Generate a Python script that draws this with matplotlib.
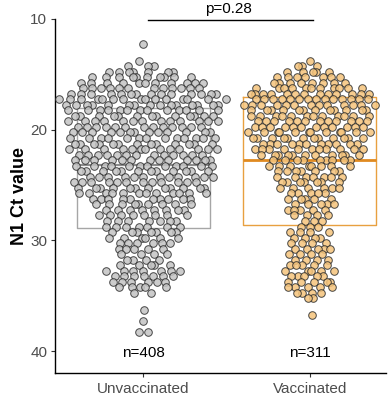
import matplotlib
matplotlib.use('Agg')
import matplotlib.pyplot as plt
import numpy as np

plt.rcParams['font.family'] = ['Liberation Sans', 'DejaVu Sans']

groups = ['Unvaccinated', 'Vaccinated']
n_labels = ['n=408', 'n=311']
p_label = 'p=0.28'

# Ct values (0.5-wide bins, centre value) and how many points sit in each bin
ct_unvax = [12.25, 13.75, 14.25, 14.75, 15.25, 15.75, 16.25, 16.75, 17.25, 17.75,
            18.25, 18.75, 19.25, 19.75, 20.25, 20.75, 21.25, 21.75, 22.25, 22.75,
            23.25, 23.75, 24.25, 24.75, 25.25, 25.75, 26.25, 26.75, 27.25, 27.75,
            28.25, 28.75, 29.25, 29.75, 30.25, 30.75, 31.25, 31.75, 32.25, 32.75,
            33.25, 33.75, 34.25, 34.75, 36.25, 37.25, 38.25]
n_unvax = [1, 1, 3, 7, 10, 11, 12, 14, 15, 15,
           13, 13, 13, 13, 13, 13, 13, 13, 13, 13,
           12, 12, 12, 12, 12, 12, 10, 9, 8, 8,
           7, 7, 7, 6, 6, 5, 4, 4, 5, 7,
           7, 6, 5, 2, 1, 1, 2]

ct_vax = [13.75, 14.25, 14.75, 15.25, 15.75, 16.25, 16.75, 17.25, 17.75, 18.25,
          18.75, 19.25, 19.75, 20.25, 20.75, 21.25, 21.75, 22.25, 22.75, 23.25,
          23.75, 24.25, 24.75, 25.25, 25.75, 26.25, 26.75, 27.25, 27.75, 28.25,
          28.75, 29.25, 29.75, 30.25, 30.75, 31.25, 31.75, 32.25, 32.75, 33.25,
          33.75, 34.25, 34.75, 35.25, 36.75]
n_vax = [1, 3, 5, 7, 8, 11, 13, 14, 13, 12,
         12, 12, 12, 12, 12, 11, 11, 11, 9, 8,
         7, 7, 7, 6, 5, 5, 5, 5, 4, 3,
         3, 4, 4, 4, 5, 4, 4, 5, 5, 5,
         5, 5, 4, 2, 1]

# box (q1, median, q3) as drawn in the figure
box_q1 = [18.0, 17.05]
box_med = [23.2, 22.75]
box_q3 = [28.9, 28.6]

point_fill = ['#c4c4c4', '#f5c47c']
box_col = ['#a6a6a6', '#e8a040']
med_col = ['#8c8c8c', '#e08a20']


def vdc(n, base=2):
    out = []
    for i in range(1, n + 1):
        v, denom, k = 0.0, 1.0, i
        while k:
            k, r = divmod(k, base)
            denom *= base
            v += r / denom
        out.append(v)
    return np.array(out)


def quasirandom(y, scale, bw=0.42):
    y = np.asarray(y, float)
    # local density in points per 0.5 Ct
    d = np.exp(-0.5 * ((y[:, None] - y[None, :]) / bw) ** 2).sum(1)
    d = d / (bw * np.sqrt(2 * np.pi)) * 0.5
    order = np.argsort(y, kind='stable')
    rank = np.empty(len(y), int)
    rank[order] = np.arange(len(y))
    u = vdc(len(y))[rank] * 2 - 1
    return u * d * scale


fig = plt.figure(figsize=(3.92, 3.99), dpi=100)
ax = fig.add_axes([0.1403, 0.066, 0.845, 0.8864])

series = [np.repeat(ct_unvax, n_unvax), np.repeat(ct_vax, n_vax)]
scales = [0.035, 0.031]

stats = []
for i in range(2):
    stats.append(dict(med=box_med[i], q1=box_q1[i], q3=box_q3[i],
                      whislo=box_q1[i], whishi=box_q3[i], fliers=[]))
for i in range(2):
    ax.bxp([stats[i]], positions=[i + 1], widths=0.8, showcaps=False,
           showfliers=False, patch_artist=False,
           boxprops=dict(color=box_col[i], lw=1.0),
           medianprops=dict(color=med_col[i], lw=2.0 if i else 1.6),
           whiskerprops=dict(color=box_col[i], lw=0), zorder=1)

for i, y in enumerate(series):
    x = i + 1 + quasirandom(y, scales[i])
    ax.scatter(x, y, s=30, facecolor=point_fill[i], edgecolor='#2a2a2a',
               linewidth=0.7, alpha=0.85, zorder=3)

for i in range(2):
    ax.text(i + 1, 40.2, n_labels[i], ha='center', va='center', fontsize=11, color='black')

ax.plot([1.03, 2.02], [10.1, 10.1], color='black', lw=1.0, clip_on=False)
ax.text(1.51, 9.1, p_label, ha='center', va='center', fontsize=11, clip_on=False)

ax.set_xlim(0.47, 2.46)
ax.set_ylim(41.95, 10.0)
ax.set_yticks([10, 20, 30, 40])
ax.set_xticks([1, 2])
ax.set_xticklabels(groups)
ax.tick_params(labelsize=11, labelcolor='#4d4d4d', length=3, width=0.8, color='#333333')
ax.tick_params(axis='y', pad=2.5)
ax.set_ylabel('N1 Ct value', fontsize=13, fontweight='bold', labelpad=2)
for s in ['top', 'right']:
    ax.spines[s].set_visible(False)
for s in ['left', 'bottom']:
    ax.spines[s].set_linewidth(1.0)

fig.savefig('out.png', dpi=100)
